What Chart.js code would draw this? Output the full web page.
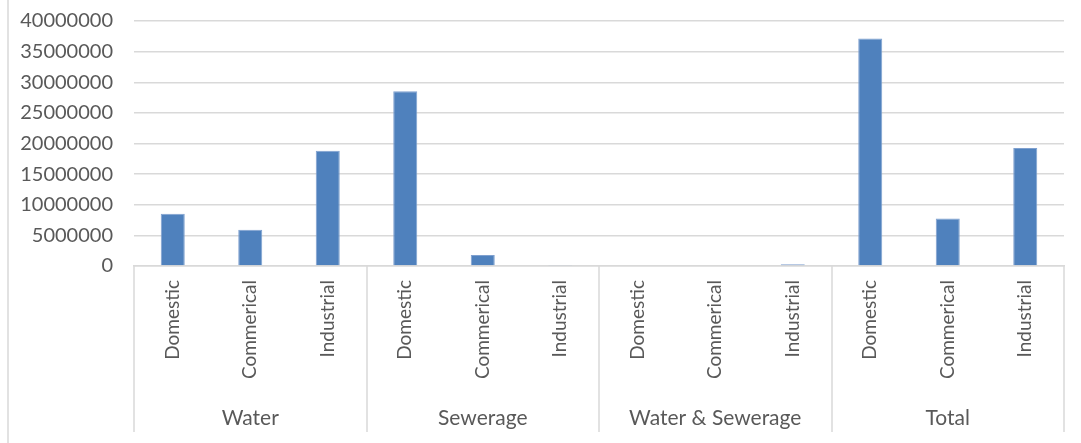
<!DOCTYPE html>
<html>
<head>
<meta charset="utf-8">
<script src="https://cdn.jsdelivr.net/npm/chart.js@4.4.1/dist/chart.umd.min.js"></script>
<style>
  html, body { margin: 0; padding: 0; background: #fff; }
  #wrap { width: 1081px; height: 443px; position: relative; }
</style>
</head>
<body>
<div id="wrap"><canvas id="chart"></canvas></div>
<script>
// values
const groups = ['Water', 'Sewerage', 'Water & Sewerage', 'Total'];
const uses = ['Domestic', 'Commerical', 'Industrial'];
const waterValues = [8550000, 5900000, 18800000];
const sewerageValues = [28550000, 1800000, 150000];
const waterSewerageValues = [0, 0, 300000];
const totalValues = [37150000, 7750000, 19250000];
const yTicks = [0, 5000000, 10000000, 15000000, 20000000, 25000000, 30000000, 35000000, 40000000];

const labels = [];
groups.forEach(() => uses.forEach(u => labels.push(u)));
const values = [].concat(waterValues, sewerageValues, waterSewerageValues, totalValues);

const lineColor = '#d9d9d9';
const textColor = '#595959';
const fontFamily = 'Lato, "Open Sans", sans-serif';

// group separators + group names under the rotated labels
const groupAxis = {
  id: 'groupAxis',
  afterDraw(chart) {
    const ctx = chart.ctx;
    const x = chart.scales.x;
    const area = chart.chartArea;
    const step = x.getPixelForValue(1) - x.getPixelForValue(0);
    const bottom = area.bottom + 166;
    ctx.save();
    ctx.strokeStyle = lineColor;
    ctx.lineWidth = 1.5;
    // outer left border
    ctx.beginPath();
    ctx.moveTo(8, 0);
    ctx.lineTo(8, chart.height);
    ctx.stroke();
    for (let g = 0; g <= groups.length; g++) {
      const px = Math.round(x.getPixelForValue(g * uses.length) - step / 2);
      ctx.beginPath();
      ctx.moveTo(px, area.bottom);
      ctx.lineTo(px, bottom);
      ctx.stroke();
    }
    ctx.fillStyle = textColor;
    ctx.font = '21px ' + fontFamily;
    ctx.textAlign = 'center';
    ctx.textBaseline = 'middle';
    groups.forEach((name, g) => {
      const cx = x.getPixelForValue(g * uses.length + 1);
      ctx.fillText(name, cx, area.bottom + 152);
    });
    ctx.restore();
  }
};

new Chart(document.getElementById('chart'), {
  type: 'bar',
  data: {
    labels: labels,
    datasets: [{
      data: values,
      backgroundColor: '#4f81bd',
      borderColor: '#7fa0cf',
      borderWidth: 1,
      categoryPercentage: 1,
      barPercentage: 0.31
    }]
  },
  options: {
    responsive: true,
    maintainAspectRatio: false,
    animation: false,
    layout: { padding: { top: 21, right: 17, left: 0, bottom: 0 } },
    plugins: {
      legend: { display: false },
      tooltip: { enabled: false }
    },
    scales: {
      x: {
        grid: { display: false, drawTicks: false },
        border: { display: true, color: lineColor, width: 1.5 },
        ticks: {
          color: textColor,
          font: { family: fontFamily, size: 19 },
          minRotation: 90,
          maxRotation: 90,
          padding: 14,
          autoSkip: false
        },
        afterFit(scale) { scale.height = 177; }
      },
      y: {
        min: 0,
        max: 40000000,
        afterBuildTicks(scale) { scale.ticks = yTicks.map(v => ({ value: v })); },
        grid: { color: lineColor, lineWidth: 1.5, drawTicks: false },
        border: { display: false },
        ticks: {
          color: textColor,
          font: { family: fontFamily, size: 20 },
          padding: 21,
          callback: v => String(v)
        },
        afterFit(scale) {
          scale.width = 134;
          scale.paddingTop = 0;
          scale.paddingBottom = 0;
        }
      }
    }
  },
  plugins: [groupAxis]
});
</script>
</body>
</html>
